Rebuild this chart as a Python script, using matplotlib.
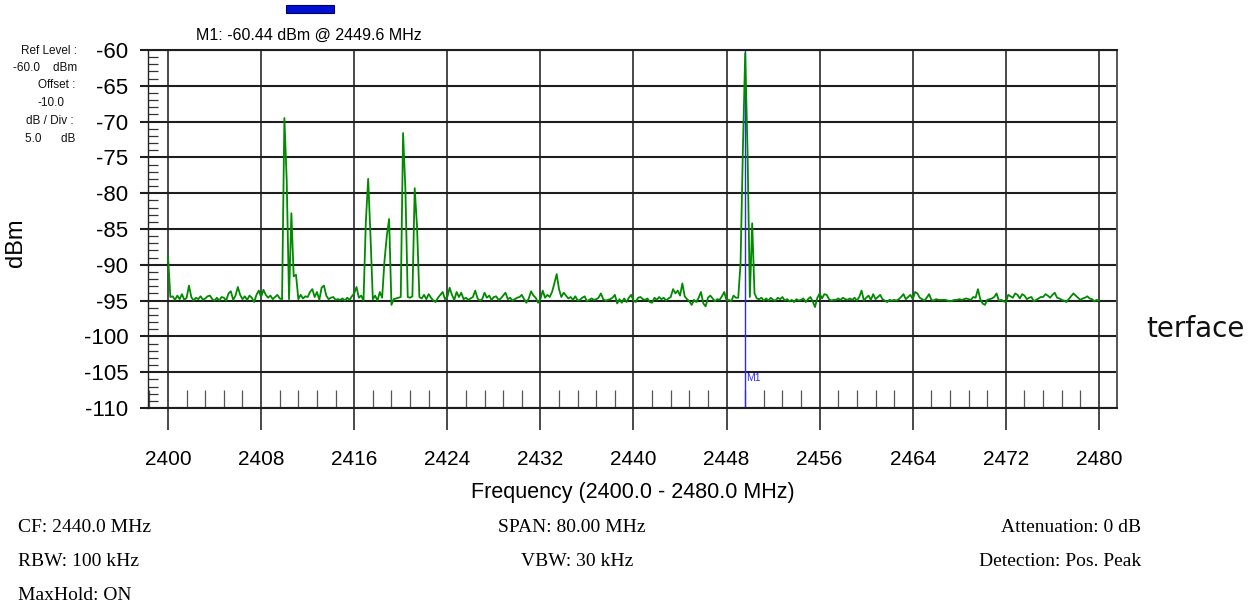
import numpy as np
import matplotlib.pyplot as plt
from matplotlib.ticker import MultipleLocator
from matplotlib.patches import Rectangle

plt.rcParams['axes.unicode_minus'] = False

# spectrum trace, 401 points across the span (max hold)
freq_start = 2400.0
freq_stop = 2480.0
level_dbm = [
    -88.8, -94.5, -94.4, -94.9, -94.3, -94.8, -94.1, -94.9, -94.6, -92.9, -94.5, -95.0, -94.6, -94.8, -94.4, -94.9, -94.7, -94.4, -94.3, -94.8,
    -95.0, -94.6, -95.0, -94.5, -94.6, -95.0, -94.0, -93.7, -94.9, -94.3, -93.1, -94.2, -94.8, -94.4, -94.9, -94.3, -94.6, -95.2, -94.2, -93.6,
    -94.5, -93.5, -94.2, -94.6, -94.3, -94.8, -94.5, -94.2, -94.7, -94.8, -69.5, -78.2, -94.8, -82.8, -91.6, -91.4, -94.8, -94.2, -94.7, -94.4,
    -94.5, -93.8, -93.4, -94.5, -93.8, -94.9, -93.2, -92.9, -94.3, -94.8, -94.6, -94.5, -94.9, -94.8, -94.9, -94.7, -95.0, -94.6, -94.9, -94.4,
    -94.0, -93.1, -94.6, -94.3, -95.0, -84.0, -78.0, -86.0, -94.8, -94.3, -95.0, -93.8, -94.6, -89.5, -86.0, -83.6, -95.6, -94.8, -94.7, -94.6,
    -94.5, -71.6, -79.5, -94.5, -94.6, -94.4, -79.3, -84.7, -94.5, -94.7, -94.2, -94.8, -94.1, -94.6, -95.0, -95.2, -94.6, -94.2, -93.8, -94.8,
    -94.5, -93.2, -94.2, -94.9, -93.8, -94.5, -93.9, -94.8, -94.6, -94.9, -94.7, -94.5, -93.6, -94.7, -95.0, -94.8, -93.9, -94.6, -94.3, -94.9,
    -94.5, -94.4, -94.9, -94.7, -94.3, -93.9, -94.8, -94.6, -95.0, -94.8, -94.6, -94.5, -94.2, -94.8, -95.3, -94.7, -93.7, -94.3, -94.6, -95.3,
    -94.8, -93.6, -94.6, -94.2, -94.5, -93.8, -92.6, -91.3, -93.4, -94.5, -93.9, -94.3, -94.7, -94.5, -94.9, -94.4, -95.0, -94.9, -94.6, -94.4,
    -95.1, -94.9, -94.7, -94.9, -94.8, -94.6, -94.0, -94.8, -95.0, -94.9, -94.8, -94.6, -94.2, -95.4, -94.8, -95.3, -94.7, -95.2, -94.6, -94.2,
    -95.0, -95.2, -94.6, -94.5, -94.8, -94.9, -94.7, -95.2, -95.3, -94.6, -94.9, -94.5, -94.8, -94.6, -95.0, -94.7, -94.5, -93.4, -94.0, -93.6,
    -94.3, -92.6, -94.4, -94.8, -95.1, -95.6, -94.9, -95.2, -94.6, -93.8, -95.4, -95.8, -94.6, -94.3, -94.7, -95.1, -94.8, -94.9, -94.4, -93.8,
    -95.0, -94.9, -95.1, -94.3, -94.6, -94.6, -89.8, -74.0, -60.44, -74.0, -94.5, -84.2, -94.0, -94.7, -94.8, -94.6, -95.0, -94.7, -95.0, -94.6,
    -94.9, -95.0, -94.6, -94.8, -94.5, -95.0, -94.8, -95.1, -94.9, -95.2, -94.8, -95.0, -94.9, -94.7, -95.2, -94.8, -94.5, -95.1, -95.9, -94.6,
    -94.0, -94.7, -94.1, -94.2, -94.8, -95.0, -94.9, -94.9, -94.7, -94.9, -94.6, -94.8, -94.9, -94.7, -94.9, -94.6, -95.0, -94.5, -93.6, -95.0,
    -94.6, -94.3, -94.9, -94.1, -94.8, -94.5, -94.2, -94.8, -95.0, -95.2, -94.9, -95.0, -94.9, -95.0, -94.8, -94.5, -94.1, -94.8, -94.5, -94.2,
    -94.8, -93.8, -94.0, -94.6, -94.8, -95.0, -94.6, -94.1, -94.9, -95.0, -94.8, -94.9, -94.9, -94.9, -94.9, -95.0, -95.1, -95.0, -94.9, -94.9,
    -94.8, -94.9, -94.8, -94.7, -94.8, -94.9, -94.5, -94.6, -93.4, -94.8, -95.4, -95.6, -94.9, -94.8, -94.7, -94.5, -94.0, -95.0, -94.9, -95.1,
    -95.2, -94.2, -94.4, -94.6, -94.0, -94.2, -94.7, -94.1, -94.3, -94.8, -94.6, -94.5, -95.1, -94.9, -94.7, -94.5, -94.5, -94.1, -94.3, -94.6,
    -94.2, -93.9, -94.6, -94.7, -94.9, -95.0, -95.2, -94.8, -94.4, -94.0, -94.3, -94.6, -94.9, -94.7, -94.6, -94.4, -94.7, -94.8, -95.1, -94.9,
    -95.0,
]
freq_mhz = np.linspace(freq_start, freq_stop, len(level_dbm))

marker_name = "M1"
marker_freq = 2449.6
marker_level = -60.44

y_ticks = list(range(-110, -55, 5))
x_ticks = list(range(2400, 2481, 8))

ref_info = ["Ref Level :", "-60.0    dBm", "Offset :", "-10.0", "dB / Div :", "5.0      dB"]
settings_left = ["CF: 2440.0 MHz", "RBW: 100 kHz", "MaxHold: ON"]
settings_mid = ["SPAN: 80.00 MHz", "VBW: 30 kHz"]
settings_right = ["Attenuation: 0 dB", "Detection: Pos. Peak"]

W, H = 1254, 613


def fx(x):
    return x / W


def fy(y):
    return 1 - y / H


fig = plt.figure(figsize=(W / 100, H / 100), dpi=100)
ax = fig.add_axes([fx(148), fy(408), (1117 - 148) / W, (408 - 50) / H])

grid_col = '#1e1e1e'
ax.set_xlim(2398.28, 2481.55)
ax.set_ylim(-110, -60)
ax.set_xticks(x_ticks)
ax.set_yticks(y_ticks)
ax.xaxis.set_minor_locator(MultipleLocator(1.6))
ax.yaxis.set_minor_locator(MultipleLocator(1))
ax.grid(True, which='major', axis='y', color=grid_col, lw=1.5)
ax.grid(True, which='major', axis='x', color='#2a2a2a', lw=1.2)

ax.tick_params(axis='y', which='major', direction='out', length=5.8, width=1.5,
               color=grid_col, labelsize=16, pad=8.5)
ax.tick_params(axis='x', which='major', direction='out', length=15.8, width=1.2,
               color='#2a2a2a', labelsize=15, pad=14.5)
ax.tick_params(axis='y', which='minor', direction='in', length=7.2, width=0.9, color='#333333')
ax.tick_params(axis='x', which='minor', direction='in', length=13, width=0.9, color='#555555')
for lab in ax.get_xticklabels() + ax.get_yticklabels():
    lab.set_fontfamily('Liberation Sans')

ax.spines['left'].set_color('#222222')
ax.spines['left'].set_linewidth(1.0)
ax.spines['right'].set_color('#555555')
ax.spines['right'].set_linewidth(1.4)
ax.spines['top'].set_color(grid_col)
ax.spines['top'].set_linewidth(1.5)
ax.spines['bottom'].set_color(grid_col)
ax.spines['bottom'].set_linewidth(1.5)

# marker line under the trace
ax.axvline(marker_freq, color='#2a2aff', lw=1.0, zorder=2)
ax.text(marker_freq + 0.05, -105.8, marker_name, color='#2a2aff', fontsize=7.5,
        family='Liberation Sans', va='center', ha='left', zorder=4)

ax.plot(freq_mhz, level_dbm, color='#008a00', lw=1.3, zorder=3)

ax.set_xlabel(f"Frequency ({freq_start:.1f} - {freq_stop:.1f} MHz)",
              fontsize=15.5, family='Liberation Sans', labelpad=9)

fig.text(fx(16), fy(243), "dBm", rotation=90, fontsize=17, family='Liberation Sans',
         ha='center', va='center')

# marker readout above the plot
fig.patches.append(Rectangle((fx(286), fy(13)), 48 / W, 8 / H, transform=fig.transFigure,
                             facecolor='#0010d0', edgecolor='#000060', lw=0.8))
fig.text(fx(309), fy(35), f"{marker_name}: {marker_level:.2f} dBm @ {marker_freq:.1f} MHz",
         fontsize=11.5, family='Liberation Sans', ha='center', va='center')

# reference level block
ref_pos = [(77, 51), (77, 68), (75, 85), (64, 103), (74, 121), (75, 139)]
for txt, (x, y) in zip(ref_info, ref_pos):
    fig.text(fx(x), fy(y), txt, fontsize=8.5, family='Liberation Sans',
             ha='right', va='center', color='#111111')

# instrument settings
for k, txt in enumerate(settings_left):
    fig.text(fx(18), fy(528 + 34 * k), txt, fontsize=14, family='Liberation Serif',
             ha='left', va='center')
for k, (txt, xc) in enumerate(zip(settings_mid, [572, 577])):
    fig.text(fx(xc), fy(528 + 34 * k), txt, fontsize=14, family='Liberation Serif',
             ha='center', va='center')
for k, txt in enumerate(settings_right):
    fig.text(fx(1141), fy(528 + 34 * k), txt, fontsize=14, family='Liberation Serif',
             ha='right', va='center')

fig.text(fx(1146), fy(329), "terface", fontsize=20, family='DejaVu Sans',
         ha='left', va='center', color='#111111')

fig.savefig('out.png', dpi=100)
